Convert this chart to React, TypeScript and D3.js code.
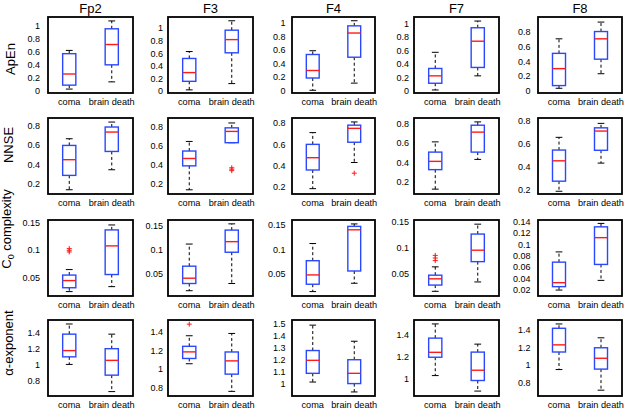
import React from "react";
import * as d3 from "d3";

// ---------- DATA ----------
const channels = ["Fp2", "F3", "F4", "F7", "F8"];
const groups = ["coma", "brain death"];

// each entry: [lower whisker, Q1, median, Q3, upper whisker], one per channel
const apenComa = [
  [0.03, 0.09, 0.26, 0.57, 0.62],
  [0.02, 0.156, 0.295, 0.52, 0.63],
  [0.01, 0.19, 0.3, 0.535, 0.59],
  [0.015, 0.115, 0.225, 0.335, 0.575],
  [0.03, 0.067, 0.3, 0.51, 0.71],
];
const apenBrainDeath = [
  [0.14, 0.4, 0.71, 0.95, 1.07],
  [0.12, 0.61, 0.82, 0.97, 1.12],
  [0.115, 0.495, 0.85, 0.955, 1.03],
  [0.225, 0.35, 0.74, 0.94, 1.04],
  [0.23, 0.43, 0.71, 0.81, 0.94],
];
const nnseComa = [
  [0.14, 0.288, 0.45, 0.597, 0.666],
  [0.14, 0.39, 0.467, 0.545, 0.645],
  [0.185, 0.36, 0.475, 0.6, 0.71],
  [0.13, 0.33, 0.415, 0.51, 0.615],
  [0.184, 0.272, 0.45, 0.544, 0.655],
];
const nnseBrainDeath = [
  [0.346, 0.535, 0.735, 0.787, 0.838],
  [0.632, 0.632, 0.75, 0.787, 0.838],
  [0.43, 0.62, 0.75, 0.78, 0.81],
  [0.435, 0.51, 0.715, 0.786, 0.82],
  [0.43, 0.542, 0.71, 0.738, 0.777],
];
const c0Coma = [
  [0.025, 0.032, 0.045, 0.055, 0.065],
  [0.015, 0.03, 0.041, 0.066, 0.112],
  [0.014, 0.029, 0.048, 0.077, 0.112],
  [0.016, 0.028, 0.04, 0.047, 0.063],
  [0.02, 0.026, 0.033, 0.069, 0.087],
];
const c0BrainDeath = [
  [0.034, 0.056, 0.108, 0.137, 0.146],
  [0.03, 0.095, 0.117, 0.141, 0.154],
  [0.031, 0.056, 0.14, 0.147, 0.152],
  [0.034, 0.073, 0.095, 0.126, 0.145],
  [0.037, 0.065, 0.112, 0.131, 0.137],
];
const alphaComa = [
  [1.009, 1.104, 1.182, 1.388, 1.515],
  [1.058, 1.115, 1.186, 1.246, 1.36],
  [1.013, 1.086, 1.195, 1.277, 1.49],
  [1.027, 1.195, 1.24, 1.37, 1.5],
  [0.95, 1.149, 1.23, 1.418, 1.467],
];
const alphaBrainDeath = [
  [0.669, 0.875, 1.06, 1.206, 1.388],
  [0.76, 0.946, 1.089, 1.185, 1.385],
  [0.93, 1.0, 1.086, 1.2, 1.355],
  [0.885, 0.982, 1.076, 1.242, 1.315],
  [0.716, 0.955, 1.078, 1.197, 1.31],
];

// outliers per channel
const apenComaOut: number[][] = [[], [], [], [], []];
const apenBrainDeathOut: number[][] = [[], [], [], [], []];
const nnseComaOut: number[][] = [[], [], [], [], []];
const nnseBrainDeathOut = [[], [0.37, 0.355, 0.34], [0.33], [], []];
const c0ComaOut = [[0.103, 0.1, 0.097], [], [], [0.085, 0.08, 0.075], []];
const c0BrainDeathOut: number[][] = [[], [], [], [], []];
const alphaComaOut = [[], [1.485], [], [], []];
const alphaBrainDeathOut: number[][] = [[], [], [], [], []];

// y-axis limits per channel
const apenLimits = [[-0.03, 1.13], [-0.03, 1.18], [-0.03, 1.085], [-0.03, 1.1], [-0.035, 1.01]];
const nnseLimits = [[0.096, 0.88], [0.096, 0.89], [0.135, 0.847], [0.08, 0.86], [0.16, 0.824]];
const c0Limits = [[0.017, 0.155], [0.004, 0.162], [0.005, 0.16], [0.007, 0.153], [0.0096, 0.143]];
const alphaLimits = [[0.614, 1.565], [0.71, 1.53], [0.896, 1.533], [0.84, 1.536], [0.65, 1.512]];

// tick labels per channel
const apenTicks = [
  [0, 0.2, 0.4, 0.6, 0.8, 1],
  [0, 0.2, 0.4, 0.6, 0.8, 1],
  [0, 0.2, 0.4, 0.6, 0.8, 1],
  [0, 0.2, 0.4, 0.6, 0.8, 1],
  [0, 0.2, 0.4, 0.6, 0.8],
];
const nnseTicks = [
  [0.2, 0.4, 0.6, 0.8],
  [0.2, 0.4, 0.6, 0.8],
  [0.2, 0.4, 0.6, 0.8],
  [0.2, 0.4, 0.6, 0.8],
  [0.2, 0.4, 0.6, 0.8],
];
const c0Ticks = [
  [0.05, 0.1, 0.15],
  [0.05, 0.1, 0.15],
  [0.05, 0.1, 0.15],
  [0.05, 0.1, 0.15],
  [0.02, 0.04, 0.06, 0.08, 0.1, 0.12, 0.14],
];
const alphaTicks = [
  [0.8, 1, 1.2, 1.4],
  [0.8, 1, 1.2, 1.4],
  [1, 1.1, 1.2, 1.3, 1.4, 1.5],
  [1, 1.2, 1.4],
  [0.8, 1, 1.2, 1.4],
];

// ---------- LAYOUT ----------
const W = 630;
const H = 409;
const colX = [48, 168, 292, 414, 538];
const colW = [85, 85, 83, 85, 84];
const rowY = [17, 118, 220, 320];
const rowH = 76;
const labelGap = [8, 5, 6.5, 5, 7.5];
const yLabelPos = [
  { x: 15, y: 59 },
  { x: 12.5, y: 145 },
  { x: 11, y: 229 },
  { x: 13, y: 343 },
];
const FONT = "'Liberation Sans', Arial, Helvetica, sans-serif";
const BLUE = "#2a48ff";
const RED = "#ff1a1a";

const rows = [
  { key: "apen", coma: apenComa, bd: apenBrainDeath, comaOut: apenComaOut, bdOut: apenBrainDeathOut, lim: apenLimits, ticks: apenTicks },
  { key: "nnse", coma: nnseComa, bd: nnseBrainDeath, comaOut: nnseComaOut, bdOut: nnseBrainDeathOut, lim: nnseLimits, ticks: nnseTicks },
  { key: "c0", coma: c0Coma, bd: c0BrainDeath, comaOut: c0ComaOut, bdOut: c0BrainDeathOut, lim: c0Limits, ticks: c0Ticks },
  { key: "alpha", coma: alphaComa, bd: alphaBrainDeath, comaOut: alphaComaOut, bdOut: alphaBrainDeathOut, lim: alphaLimits, ticks: alphaTicks },
];

const fmt = (v: number) => String(+v.toFixed(4));

function Box({ xs, ys, pos, stats, outs }: any) {
  const [lo, q1, med, q3, hi] = stats;
  const bh = 0.155;
  const ch = 0.08;
  const xc = xs(pos);
  return (
    <g>
      <line x1={xc} x2={xc} y1={ys(q3)} y2={ys(hi)} stroke="#000" strokeWidth={1} strokeDasharray="3,2.5" />
      <line x1={xc} x2={xc} y1={ys(q1)} y2={ys(lo)} stroke="#000" strokeWidth={1} strokeDasharray="3,2.5" />
      <line x1={xs(pos - ch)} x2={xs(pos + ch)} y1={ys(hi)} y2={ys(hi)} stroke="#000" strokeWidth={1} />
      <line x1={xs(pos - ch)} x2={xs(pos + ch)} y1={ys(lo)} y2={ys(lo)} stroke="#000" strokeWidth={1} />
      <rect
        x={xs(pos - bh)}
        y={ys(q3)}
        width={xs(pos + bh) - xs(pos - bh)}
        height={Math.max(0.5, ys(q1) - ys(q3))}
        fill="none"
        stroke={BLUE}
        strokeWidth={1.4}
      />
      <line x1={xs(pos - bh)} x2={xs(pos + bh)} y1={ys(med)} y2={ys(med)} stroke={RED} strokeWidth={1.4} />
      {outs.map((o: number, i: number) => (
        <g key={i} stroke={RED} strokeWidth={1}>
          <line x1={xc - 2.5} x2={xc + 2.5} y1={ys(o)} y2={ys(o)} />
          <line x1={xc} x2={xc} y1={ys(o) - 2.5} y2={ys(o) + 2.5} />
        </g>
      ))}
    </g>
  );
}

function Panel({ r, c }: { r: number; c: number }) {
  const row = rows[r];
  const x0 = colX[c];
  const w = colW[c];
  const y0 = rowY[r];
  const xs = d3.scaleLinear().domain([0.5, 2.5]).range([x0, x0 + w]);
  const ys = d3.scaleLinear().domain(row.lim[c]).range([y0 + rowH, y0]);
  return (
    <g>
      {row.ticks[c].map((t: number) => (
        <text
          key={t}
          x={x0 - labelGap[c]}
          y={ys(t)}
          dy="0.35em"
          textAnchor="end"
          fontSize={9}
          fontFamily={FONT}
          fill="#000"
        >
          {fmt(t)}
        </text>
      ))}
      {groups.map((g, i) => (
        <text key={g} x={xs(i + 1)} y={y0 + rowH + 11.5} textAnchor="middle" fontSize={9.2} fontFamily={FONT} fill="#000">
          {g}
        </text>
      ))}
      <Box xs={xs} ys={ys} pos={1} stats={row.coma[c]} outs={row.comaOut[c]} />
      <Box xs={xs} ys={ys} pos={2} stats={row.bd[c]} outs={row.bdOut[c]} />
      <rect x={x0} y={y0} width={w} height={rowH} fill="none" stroke="#000" strokeWidth={1.8} />
    </g>
  );
}

export default function App() {
  return (
    <svg
      width={W}
      height={H}
      viewBox={`0 0 ${W} ${H}`}
      style={{ position: "absolute", left: 0, top: 0, background: "#fff" }}
    >
      <rect x={0} y={0} width={W} height={H} fill="#fff" />
      {channels.map((ch, c) => (
        <text key={ch} x={colX[c] + colW[c] / 2} y={13} textAnchor="middle" fontSize={13} fontFamily={FONT} fill="#000">
          {ch}
        </text>
      ))}
      {rows.map((_, r) => channels.map((__, c) => <Panel key={`${r}-${c}`} r={r} c={c} />))}
      <text transform={`translate(${yLabelPos[0].x},${yLabelPos[0].y}) rotate(-90)`} textAnchor="middle" fontSize={13} fontFamily={FONT}>
        ApEn
      </text>
      <text transform={`translate(${yLabelPos[1].x},${yLabelPos[1].y}) rotate(-90)`} textAnchor="middle" fontSize={13} fontFamily={FONT}>
        NNSE
      </text>
      <text transform={`translate(${yLabelPos[2].x},${yLabelPos[2].y}) rotate(-90)`} textAnchor="middle" fontSize={13} fontFamily={FONT}>
        C<tspan fontSize={9} dy={3}>0</tspan>
        <tspan dy={-3}> complexity</tspan>
      </text>
      <text transform={`translate(${yLabelPos[3].x},${yLabelPos[3].y}) rotate(-90)`} textAnchor="middle" fontSize={13} fontFamily={FONT}>
        α-exponent
      </text>
    </svg>
  );
}
